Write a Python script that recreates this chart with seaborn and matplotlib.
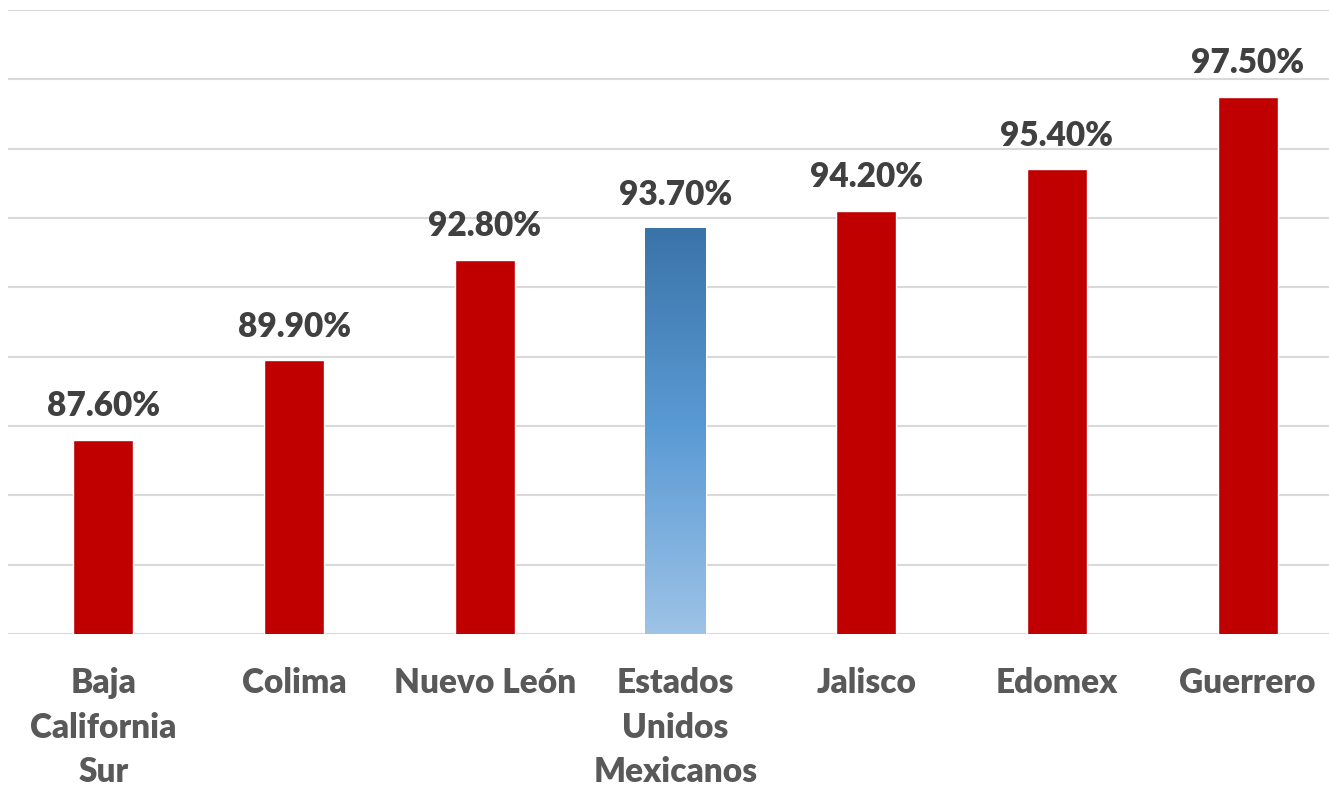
import numpy as np
import matplotlib
matplotlib.use("Agg")
import matplotlib.pyplot as plt
import matplotlib.transforms as mtransforms
import seaborn as sns
import pandas as pd
from matplotlib.colors import LinearSegmentedColormap

categories = ["Baja\nCalifornia\nSur", "Colima", "Nuevo León", "Estados\nUnidos\nMexicanos",
              "Jalisco", "Edomex", "Guerrero"]
values = [87.6, 89.9, 92.8, 93.7, 94.2, 95.4, 97.5]
value_labels = ["87.60%", "89.90%", "92.80%", "93.70%", "94.20%", "95.40%", "97.50%"]
y_ticks = [82, 84, 86, 88, 90, 92, 94, 96, 98, 100]
highlight = "Estados\nUnidos\nMexicanos"

sns.set_theme(style="white")
plt.rcParams['font.family'] = ['Lato', 'DejaVu Sans']

W, H = 1329, 790
fig = plt.figure(figsize=(W / 100, H / 100), dpi=100)
ax = fig.add_axes([8 / W, 156 / H, 1335 / W, 624 / H])

df = pd.DataFrame({"cat": categories, "val": values})
palette = {c: "#C00000" for c in categories}
palette[highlight] = "#5B9BD5"
sns.barplot(data=df, x="cat", y="val", hue="cat", palette=palette, legend=False,
            width=0.315, saturation=1, ax=ax, zorder=3)

ax.set_ylim(y_ticks[0], y_ticks[-1])
ax.set_xlim(-0.5, len(categories) - 0.5)
ax.set_yticks(y_ticks)
ax.yaxis.grid(True, color="#D9D9D9", linewidth=1.5, zorder=0)
ax.set_axisbelow(True)
ax.tick_params(axis="y", left=False, labelleft=False)
ax.tick_params(axis="x", bottom=False, labelbottom=False)
for s in ax.spines.values():
    s.set_visible(False)
ax.set_xlabel("")
ax.set_ylabel("")

# gradient for highlighted bar
hi = categories.index(highlight)
cmap = LinearSegmentedColormap.from_list("grad", ["#9DC3E6", "#5B9BD5", "#3A73A8"])
for p in ax.patches:
    cx = p.get_x() + p.get_width() / 2
    if abs(cx - hi) < 0.01:
        x0, x1 = p.get_x(), p.get_x() + p.get_width()
        grad = np.linspace(0, 1, 256).reshape(-1, 1)
        im = ax.imshow(grad, cmap=cmap, origin="lower", aspect="auto",
                       extent=[x0, x1, y_ticks[0], values[hi]], zorder=3)
        im.set_clip_path(p)
        p.set_facecolor("none")
ax.set_ylim(y_ticks[0], y_ticks[-1])
ax.set_xlim(-0.5, len(categories) - 0.5)

for i, (v, lab) in enumerate(zip(values, value_labels)):
    ax.annotate(lab, (i, v), xytext=(0, 17), textcoords="offset points",
                ha="center", va="baseline", fontsize=24, fontweight="heavy",
                color="#404040")

# category labels, one text per line at fixed baselines
base = ax.get_xaxis_transform()
for i, cat in enumerate(categories):
    for k, line in enumerate(cat.split("\n")):
        tr = mtransforms.offset_copy(base, fig=fig, x=0, y=-(59 + 44.5 * k), units="dots")
        ax.text(i, 0, line, transform=tr, ha="center", va="baseline",
                fontsize=24, fontweight="heavy", color="#595959", clip_on=False)

fig.savefig("out.png", dpi=100)
